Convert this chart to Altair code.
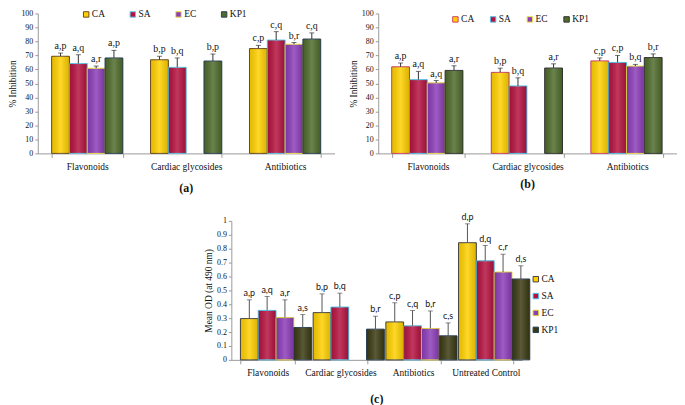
import altair as alt
import pandas as pd

series = ["CA", "SA", "EC", "KP1"]

cats_ab = ["Flavonoids", "Cardiac glycosides", "Antibiotics"]
cats_c = ["Flavonoids", "Cardiac glycosides", "Antibiotics", "Untreated Control"]

# Panel (a): % inhibition
a_vals = [[69.4, 64.2, 60.8, 68.2], [66.9, 61.5, None, 66.0], [74.9, 81.0, 78.0, 81.7]]
a_errs = [[2.3, 6.3, 1.6, 5.4], [2.5, 6.7, None, 5.0], [2.3, 6.0, 1.2, 4.4]]
a_labels = [["a,p", "a,q", "a,r", "a,p"], ["b,p", "b,q", None, "b,p"], ["c,p", "c,q", "b,r", "c,q"]]

# Panel (b): % inhibition
b_vals = [[61.9, 52.7, 50.4, 59.3], [57.9, 48.2, None, 61.0], [66.1, 65.0, 62.4, 68.5]]
b_errs = [[2.7, 5.9, 1.7, 3.3], [3.0, 5.8, None, 3.0], [2.1, 5.0, 1.2, 2.6]]
b_labels = [["a,p", "a,q", "a,q", "a,r"], ["b,p", "b,q", None, "a,r"], ["c,p", "c,p", "b,q", "b,r"]]

# Panel (c): mean OD at 490 nm
c_vals = [[0.297, 0.356, 0.304, 0.233], [0.340, 0.380, None, 0.221],
          [0.273, 0.245, 0.226, 0.173], [0.843, 0.713, 0.632, 0.582]]
c_errs = [[0.135, 0.100, 0.128, 0.093], [0.135, 0.100, None, 0.093],
          [0.138, 0.110, 0.126, 0.093], [0.136, 0.110, 0.128, 0.095]]
c_labels = [["a,p", "a,q", "a,r", "a,s"], ["b,p", "b,q", None, "b,r"],
            ["c,p", "c,q", "b,r", "c,s"], ["d,p", "d,q", "c,r", "d,s"]]

ticks_pct = [0, 10, 20, 30, 40, 50, 60, 70, 80, 90, 100]
ticks_od = [0, 0.1, 0.2, 0.3, 0.4, 0.5, 0.6, 0.7, 0.8, 0.9, 1]

SERIF = "Liberation Serif"

SHADE = alt.LinearGradient(
    gradient="linear", x1=0, y1=0, x2=1, y2=0,
    stops=[alt.GradientStop(offset=0, color="rgba(0,0,0,0.10)"),
           alt.GradientStop(offset=0.5, color="rgba(255,255,255,0.16)"),
           alt.GradientStop(offset=1, color="rgba(0,0,0,0.14)")])


def build_df(cats, vals, errs, labels):
    rows = []
    for i, c in enumerate(cats):
        for j, s in enumerate(series):
            v = vals[i][j]
            if v is None:
                continue
            rows.append(dict(cat=c, s=s, v=v, top=v + errs[i][j], lab=labels[i][j]))
    return pd.DataFrame(rows)


def panel(df, cats, fills, strokes, ydom, yticks, fmt, ytitle, w, h, pin,
          legend, title, title_offset, text_font, text_size, err_color, label_pad):
    base = alt.Chart(df)
    x_axis = alt.Axis(title=None, labelAngle=0, tickBand="extent", domainColor="#9a9a9a",
                      tickColor="#9a9a9a", tickSize=4, labelFont=SERIF, labelFontSize=9.5,
                      labelColor="#111", labelPadding=label_pad)
    x = alt.X("cat:N", sort=cats,
              scale=alt.Scale(domain=cats, paddingInner=pin, paddingOuter=pin / 2), axis=x_axis)
    xo = alt.XOffset("s:N", scale=alt.Scale(domain=series, paddingInner=0, paddingOuter=0))
    yscale = alt.Scale(domain=ydom, nice=False, zero=True)
    y_axis = alt.Axis(values=yticks, format=fmt, title=ytitle, grid=False, labelOverlap=False,
                      domainColor="#9a9a9a", tickColor="#9a9a9a", tickSize=3,
                      labelFont=SERIF, labelFontSize=8, labelColor="#111", labelPadding=2,
                      titleFont=SERIF, titleFontSize=9.5, titleFontWeight="normal",
                      titleColor="#111", titlePadding=3)
    leg = alt.Legend(title=None, symbolType="square", symbolSize=30, symbolStrokeWidth=1,
                     labelFont=SERIF, labelFontSize=9.5, labelColor="#111", labelOffset=1,
                     **legend)
    bars = base.mark_bar(strokeWidth=1).encode(
        x=x, xOffset=xo, y=alt.Y("v:Q", scale=yscale, axis=y_axis),
        fill=alt.Fill("s:N", scale=alt.Scale(domain=series, range=fills), legend=leg),
        stroke=alt.Stroke("s:N", scale=alt.Scale(domain=series, range=strokes), legend=leg),
    )
    shade = base.mark_bar(fill=SHADE, strokeWidth=0).encode(
        x=x, xOffset=xo, y=alt.Y("v:Q", scale=yscale, axis=y_axis))
    rules = base.mark_rule(color=err_color, strokeWidth=1).encode(
        x=x, xOffset=xo, y=alt.Y("v:Q", scale=yscale, axis=y_axis), y2="top:Q")
    caps = base.mark_tick(color=err_color, thickness=1, size=5).encode(
        x=x, xOffset=xo, y=alt.Y("top:Q", scale=yscale, axis=y_axis))
    text = base.mark_text(font=text_font, fontSize=text_size, color="#111", baseline="bottom", dy=-2).encode(
        x=x, xOffset=xo, y=alt.Y("top:Q", scale=yscale, axis=y_axis), text="lab:N")
    return alt.layer(bars, shade, rules, caps, text).properties(
        width=w, height=h,
        title=alt.TitleParams(title, orient="bottom", anchor="middle", font=SERIF, fontSize=12,
                              fontWeight="bold", color="#111", offset=title_offset),
    ).resolve_scale(fill="independent", stroke="independent")


fills_ab = ["#FFD000", "#B5123F", "#8B3DB8", "#4F6B2B"]
fills_c = ["#FFD000", "#B5123F", "#8B3DB8", "#3A3A12"]

pa = panel(build_df(cats_ab, a_vals, a_errs, a_labels), cats_ab, fills_ab,
           ["#6b4a1e", "#5BC8E8", "#EDE24A", "#2A4055"], [0, 100], ticks_pct, "d", "% Inhibition",
           299, 141, 0.28,
           dict(orient="none", direction="horizontal", legendX=44, legendY=-4, columnPadding=23),
           "(a)", 12, SERIF, 10, "#333", 4)

pb = panel(build_df(cats_ab, b_vals, b_errs, b_labels), cats_ab, fills_ab,
           ["#D0406A", "#4FC3E8", "#EDE24A", "#333333"], [0, 100], ticks_pct, "d", "% Inhibition",
           301, 141, 0.27,
           dict(orient="none", direction="horizontal", legendX=73, legendY=1, columnPadding=14),
           "(b)", 8, SERIF, 10, "#333", 4)

pc = panel(build_df(cats_c, c_vals, c_errs, c_labels), cats_c, fills_c,
           ["#444444", "#4FC3E8", "#E0D040", "#2A4055"], [0, 1], ticks_od, ".1~f", "Mean OD (at 490 nm)",
           293, 140, 0.25,
           dict(orient="none", direction="vertical", legendX=302, legendY=54, rowPadding=6),
           "(c)", 17, "Lato", 9, "#555", 4)

spacer = alt.Chart(pd.DataFrame({"v": [0]})).mark_point(size=0, opacity=0).encode(
    x=alt.value(5), y=alt.value(5)).properties(width=167, height=10)

row1 = alt.hconcat(pa, pb, spacing=14).resolve_scale(fill="independent", stroke="independent")
row2 = alt.hconcat(spacer, pc, spacing=0).resolve_scale(fill="independent", stroke="independent")

chart = alt.vconcat(row1, row2, spacing=18).resolve_scale(
    fill="independent", stroke="independent"
).properties(padding=0).configure_view(stroke=None).configure_axis(labelOverlap=False)

chart.save("out.html", embed_options={"renderer": "svg", "actions": False})
